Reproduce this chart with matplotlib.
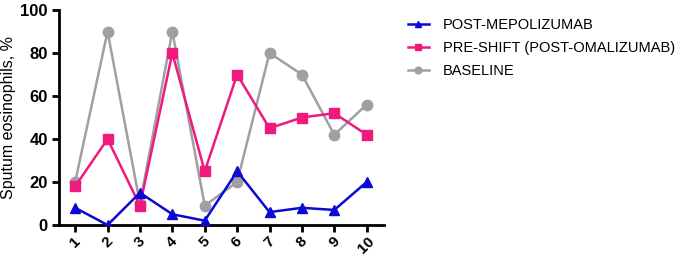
import matplotlib
matplotlib.use("Agg")
import matplotlib.pyplot as plt

plt.rcParams['font.family'] = ['Liberation Sans', 'DejaVu Sans']

patients = [1, 2, 3, 4, 5, 6, 7, 8, 9, 10]
post_mepo = [8, 0, 15, 5, 2, 25, 6, 8, 7, 20]
pre_shift = [18, 40, 9, 80, 25, 70, 45, 50, 52, 42]
baseline = [20, 90, 10, 90, 9, 20, 80, 70, 42, 56]

fig = plt.figure(figsize=(6.81, 2.57), dpi=100)
ax = fig.add_axes([0.0866, 0.1245, 0.478, 0.8365])

ax.plot(patients, post_mepo, color='#0a0ad2', marker='^', markersize=7.5, lw=1.8,
        label='POST-MEPOLIZUMAB', zorder=3)
ax.plot(patients, pre_shift, color='#f0197d', marker='s', markersize=7.5, lw=1.8,
        label='PRE-SHIFT (POST-OMALIZUMAB)', zorder=2)
ax.plot(patients, baseline, color='#a0a0a4', marker='o', markersize=7.5, lw=1.8,
        label='BASELINE', zorder=1)

ax.set_xlim(0.5, 10.55)
ax.set_ylim(0, 100)
ax.set_yticks([0, 20, 40, 60, 80, 100])
ax.set_xticks(patients)
ax.set_xticklabels([str(p) for p in patients], rotation=45, ha='center')
for lab in ax.get_yticklabels():
    lab.set_fontweight('bold')
    lab.set_fontsize(12)
for lab in ax.get_xticklabels():
    lab.set_fontweight('bold')
    lab.set_fontsize(11)
ax.spines['top'].set_visible(False)
ax.spines['right'].set_visible(False)
for s in ['left', 'bottom']:
    ax.spines[s].set_linewidth(2)
ax.tick_params(width=2, length=5, pad=3)
ax.tick_params(axis='x', pad=1.5)
ax.set_ylabel('Sputum eosinophils, %', fontsize=11.5, labelpad=3)

leg = fig.legend(loc='upper left', bbox_to_anchor=(0.58, 0.98), frameon=False,
                 fontsize=10.5, handlelength=1.4, handletextpad=1.0,
                 labelspacing=0.6, markerscale=0.65)

fig.savefig('out.png', dpi=100)
